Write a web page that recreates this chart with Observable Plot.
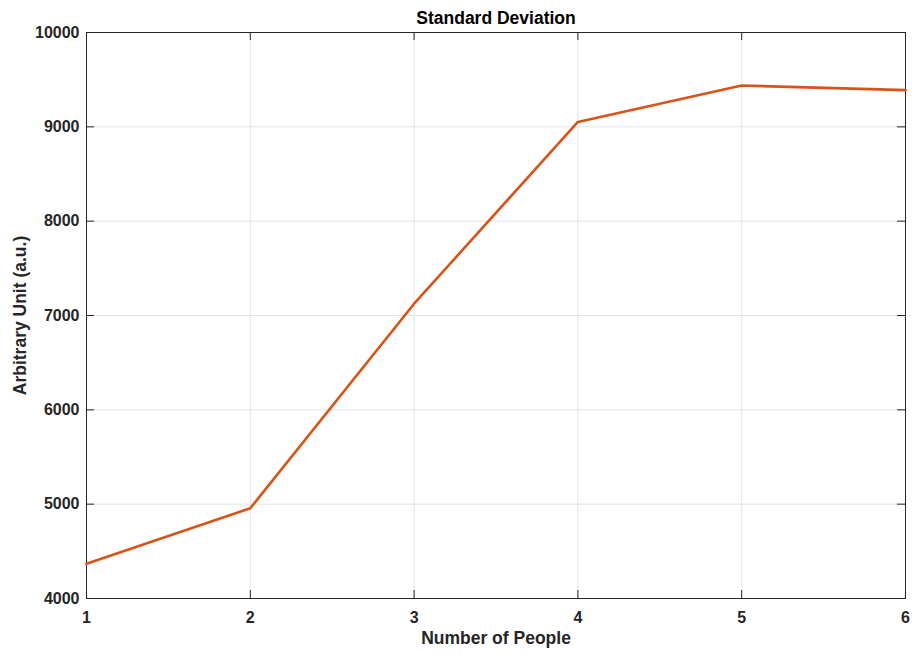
<!DOCTYPE html>
<html>
<head>
<meta charset="utf-8">
<script src="https://cdn.jsdelivr.net/npm/d3@7"></script>
<script src="https://cdn.jsdelivr.net/npm/@observablehq/plot@0.6"></script>
<style>
  html, body { margin: 0; padding: 0; background: #fff; }
  #chart svg { display: block; }
</style>
</head>
<body>
<div id="chart"></div>
<script>
const people = [1, 2, 3, 4, 5, 6];
const stdDev = [4368, 4957, 7125, 9052, 9438, 9389];
const xTicks = [1, 2, 3, 4, 5, 6];
const yTicks = [4000, 5000, 6000, 7000, 8000, 9000, 10000];
const title = "Standard Deviation";
const xLabel = "Number of People";
const yLabel = "Arbitrary Unit (a.u.)";

const W = 915, H = 655;
const mL = 86, mR = 10, mT = 32, mB = 57;
const pw = W - mL - mR, ph = H - mT - mB;
const tk = 8;
const axisColor = "#262626";
const gridColor = "#e3e3e3";

const data = people.map((p, i) => ({x: p, y: stdDev[i]}));

const chart = Plot.plot({
  width: W,
  height: H,
  marginLeft: mL,
  marginRight: mR,
  marginTop: mT,
  marginBottom: mB,
  style: {fontFamily: "'Liberation Sans', Arial, sans-serif", fontSize: "16px", fontWeight: "bold", color: axisColor, background: "#fff"},
  x: {domain: [1, 6], ticks: xTicks, tickSize: 0, tickPadding: 13, label: null, tickFormat: d3.format("d")},
  y: {domain: [4000, 10000], ticks: yTicks, tickSize: 0, tickPadding: 7, label: null, tickFormat: d3.format("d")},
  marks: [
    Plot.ruleX(xTicks, {x: d => d, stroke: gridColor, strokeWidth: 1}),
    Plot.ruleY(yTicks, {y: d => d, stroke: gridColor, strokeWidth: 1}),
    Plot.tickX(xTicks, {x: d => d, insetTop: ph - tk, stroke: axisColor}),
    Plot.tickX(xTicks, {x: d => d, insetBottom: ph - tk, stroke: axisColor}),
    Plot.tickY(yTicks, {y: d => d, insetRight: pw - tk, stroke: axisColor}),
    Plot.tickY(yTicks, {y: d => d, insetLeft: pw - tk, stroke: axisColor}),
    Plot.frame({stroke: axisColor, strokeWidth: 1}),
    Plot.line(data, {x: "x", y: "y", stroke: "#D95319", strokeWidth: 2.6, strokeLinejoin: "round"}),
    Plot.text([title], {text: d => d, frameAnchor: "top", lineAnchor: "middle", dy: -14, fontSize: 17.5, fontWeight: "bold", fill: "#000"}),
    Plot.text([xLabel], {text: d => d, frameAnchor: "bottom", lineAnchor: "middle", dy: 40, fontSize: 17.5, fontWeight: "bold", fill: axisColor}),
    Plot.text([yLabel], {text: d => d, frameAnchor: "left", textAnchor: "middle", lineAnchor: "middle", dx: -66, rotate: -90, fontSize: 17.5, fontWeight: "bold", fill: axisColor})
  ]
});
document.getElementById("chart").appendChild(chart);
</script>
</body>
</html>
